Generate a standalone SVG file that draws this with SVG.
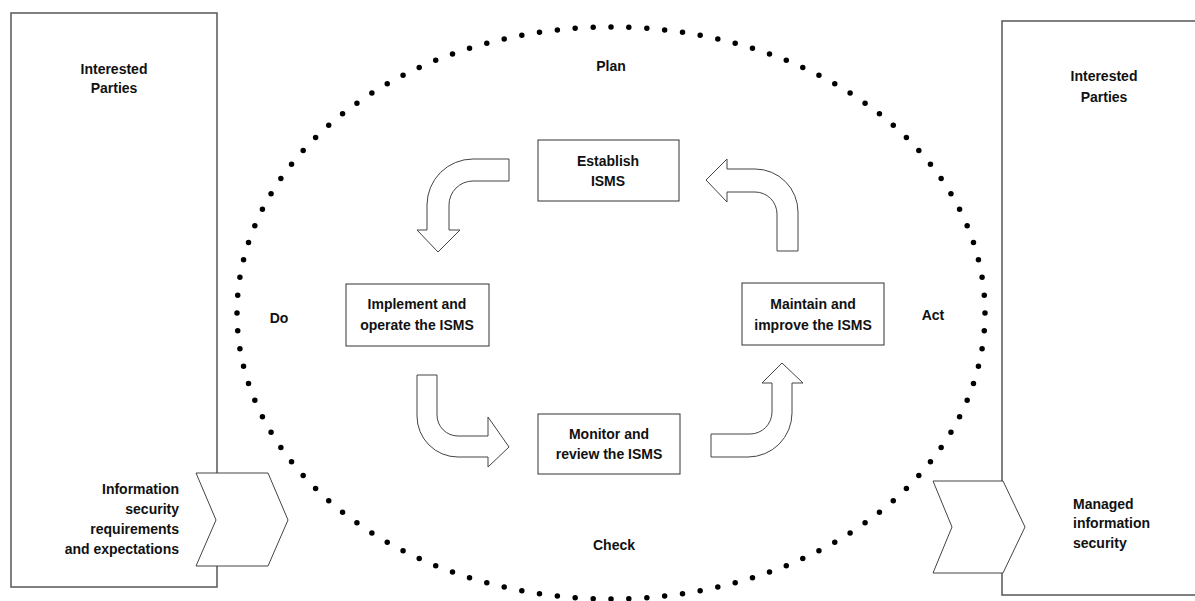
<svg xmlns="http://www.w3.org/2000/svg" width="1195" height="601" viewBox="0 0 1195 601">
  <style>
    text { font-family: "Liberation Sans", Arial, sans-serif; font-weight: bold; font-size: 14px; fill: #111; }
    .c { text-anchor: middle; }
    .r { text-anchor: end; }
    .party { fill: #fff; stroke: #555; stroke-width: 1.5; }
    .step { fill: #fff; stroke: #333; stroke-width: 1; }
    .bend { fill: #fff; stroke: #444; stroke-width: 1; stroke-linejoin: miter; }
    .chev { fill: #fff; stroke: #444; stroke-width: 1; }
  </style>

  <!-- Interested parties, left -->
  <g id="parties-left">
    <rect class="party" x="11" y="13" width="206" height="574"/>
    <text class="c" x="114" y="74">Interested</text>
    <text class="c" x="114" y="93">Parties</text>
  </g>

  <!-- Interested parties, right -->
  <g id="parties-right">
    <rect class="party" x="1002" y="21" width="200" height="574"/>
    <text class="c" x="1104" y="81">Interested</text>
    <text class="c" x="1104" y="102">Parties</text>
  </g>

  <!-- PDCA boundary -->
  <g id="cycle">
    <ellipse cx="611" cy="313" rx="374" ry="286" fill="none" stroke="#000" stroke-width="5.5" stroke-linecap="round" pathLength="116" stroke-dasharray="0 1"/>
    <text class="c" x="611" y="71">Plan</text>
    <text class="c" x="614" y="550">Check</text>
    <text class="c" x="279" y="323">Do</text>
    <text class="c" x="933" y="320">Act</text>
  </g>

  <!-- Input / output chevrons -->
  <g id="input">
    <polygon class="chev" points="196,473 268,473 288,520 268,566 196,566 216,520"/>
    <text class="r" x="179" y="494">Information</text>
    <text class="r" x="179" y="514">security</text>
    <text class="r" x="179" y="534">requirements</text>
    <text class="r" x="179" y="554">and expectations</text>
  </g>
  <g id="output">
    <polygon class="chev" points="933,481 1003,481 1025,527 1003,573 933,573 952,527"/>
    <text x="1073" y="509">Managed</text>
    <text x="1073" y="528">information</text>
    <text x="1073" y="548">security</text>
  </g>

  <!-- Process steps -->
  <g id="establish">
    <rect class="step" x="538" y="140" width="141" height="61"/>
    <text class="c" x="608" y="166">Establish</text>
    <text class="c" x="608" y="186">ISMS</text>
  </g>
  <g id="implement">
    <rect class="step" x="346" y="284" width="143" height="62"/>
    <text class="c" x="417" y="309">Implement and</text>
    <text class="c" x="417" y="330">operate the ISMS</text>
  </g>
  <g id="maintain">
    <rect class="step" x="742" y="283" width="142" height="62"/>
    <text class="c" x="813" y="309">Maintain and</text>
    <text class="c" x="813" y="330">improve the ISMS</text>
  </g>
  <g id="monitor">
    <rect class="step" x="538" y="414" width="142" height="60"/>
    <text class="c" x="609" y="439">Monitor and</text>
    <text class="c" x="609" y="459">review the ISMS</text>
  </g>

  <!-- Bent block arrows between steps -->
  <g id="connectors">
    <!-- Establish -> Implement -->
    <path class="bend" d="M509,159 L473,159 A46,46 0 0 0 427,205 L427,230 L417,230 L438,252 L460,230 L449,230 L449,205 A24,24 0 0 1 473,181 L509,181 Z"/>
    <!-- Implement -> Monitor -->
    <path class="bend" d="M417,375 L437,375 L437,415 A21,21 0 0 0 458,436 L488,436 L488,417 L509,447 L488,467 L488,457 L458,457 A41,41 0 0 1 417,416 Z"/>
    <!-- Monitor -> Maintain -->
    <path class="bend" d="M711,434 L750,434 A22,22 0 0 0 772,412 L772,383 L762,383 L782,363 L803,383 L792,383 L792,413 A44,44 0 0 1 748,457 L711,457 Z"/>
    <!-- Maintain -> Establish -->
    <path class="bend" d="M798,251 L777,251 L777,214 A22,22 0 0 0 755,192 L727,192 L727,202 L706,180 L727,159 L727,169 L755,169 A43,43 0 0 1 798,212 Z"/>
  </g>
</svg>
